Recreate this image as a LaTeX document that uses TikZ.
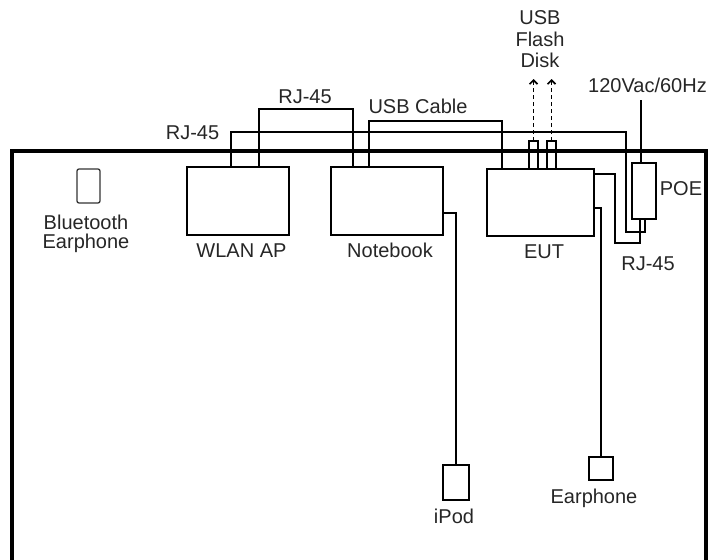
\documentclass[tikz,border=0pt]{standalone}
\usepackage{fontspec}
\setmainfont{Liberation Sans}
\usetikzlibrary{arrows.meta}

\begin{document}
\begin{tikzpicture}[x=1pt,y=-1pt,
  box/.style={draw,line width=1.6pt,inner sep=0,outer sep=0},
  wire/.style={line width=1.6pt},
  lbl/.style={font=\fontsize{20}{21.5}\selectfont,text=black!85,inner sep=0,anchor=base}]
  \useasboundingbox (0,0) rectangle (716,560);
  \draw[line width=4.5pt] (12,560) -- (12,151) -- (706,151) -- (706,560);

  \node[box,minimum width=102,minimum height=68] (wlan) at (238,201) {};
  \node[box,minimum width=112,minimum height=68] (notebook) at (387,201) {};
  \node[box,minimum width=107,minimum height=67] (eut) at (540.5,202.5) {};
  \node[box,minimum width=24,minimum height=56] (poe) at (644,191) {};
  \node[box,minimum width=9,minimum height=28] (usba) at (533.5,155) {};
  \node[box,minimum width=9,minimum height=28] (usbb) at (551.5,155) {};
  \node[box,minimum width=26,minimum height=35] (ipod) at (456,482.5) {};
  \node[box,minimum width=24,minimum height=23] (earph) at (601,468.5) {};
  \node[box,draw=black!80,line width=1.3pt,rounded corners=2pt,minimum width=23,minimum height=34] (bt) at (88.5,186) {};

  \draw[wire] ([xshift=-7]wlan.north) |- (626,132) -- (626,232) -| ([xshift=1]poe.south);
  \draw[wire] ([xshift=21]wlan.north) -- ++(0,-58) -| ([xshift=-34]notebook.north);
  \draw[wire] ([xshift=-18]notebook.north) -- ++(0,-46) -| ([xshift=-38.5]eut.north);
  \draw[wire] ([yshift=28.5]eut.east) -| (615,243) -| ([xshift=-4]poe.south);
  \draw[wire] ([yshift=-5.5]eut.east) -| (earph.north);
  \draw[wire] ([yshift=-12]notebook.east) -| (ipod.north);
  \draw[wire] ([xshift=-3]poe.north) -- ++(0,-63);
  \draw[wire,dash pattern=on 4pt off 3pt,-{Straight Barb[length=4pt,width=8pt]}] (usba.north) -- ++(0,-62);
  \draw[wire,dash pattern=on 4pt off 3pt,-{Straight Barb[length=4pt,width=8pt]}] (usbb.north) -- ++(0,-62);

  \node[lbl] (rjleft) at (192.5,139) {RJ-45};
  \node[lbl] (rjtop) at (305,103) {RJ-45};
  \node[lbl] (usbcable) at (418,113) {USB Cable};
  \node[lbl,anchor=north,align=center] (flash) at (540,10.7) {USB\\Flash\\Disk};
  \node[lbl] (ac) at (647.5,92) {120Vac/60Hz};
  \node[lbl] (poelbl) at (681,195) {POE};
  \node[lbl] (rjright) at (648,270) {RJ-45};
  \node[lbl] (wlanlbl) at (241.5,257) {WLAN AP};
  \node[lbl] (notebooklbl) at (390,257) {Notebook};
  \node[lbl] (eutlbl) at (544,258) {EUT};
  \node[lbl] (ipodlbl) at (454,523) {iPod};
  \node[lbl] (earphlbl) at (594,503) {Earphone};
  \node[lbl,anchor=north,align=center,font=\fontsize{20}{19}\selectfont] (btlbl) at (86,215) {Bluetooth\\Earphone};
\end{tikzpicture}
\end{document}
